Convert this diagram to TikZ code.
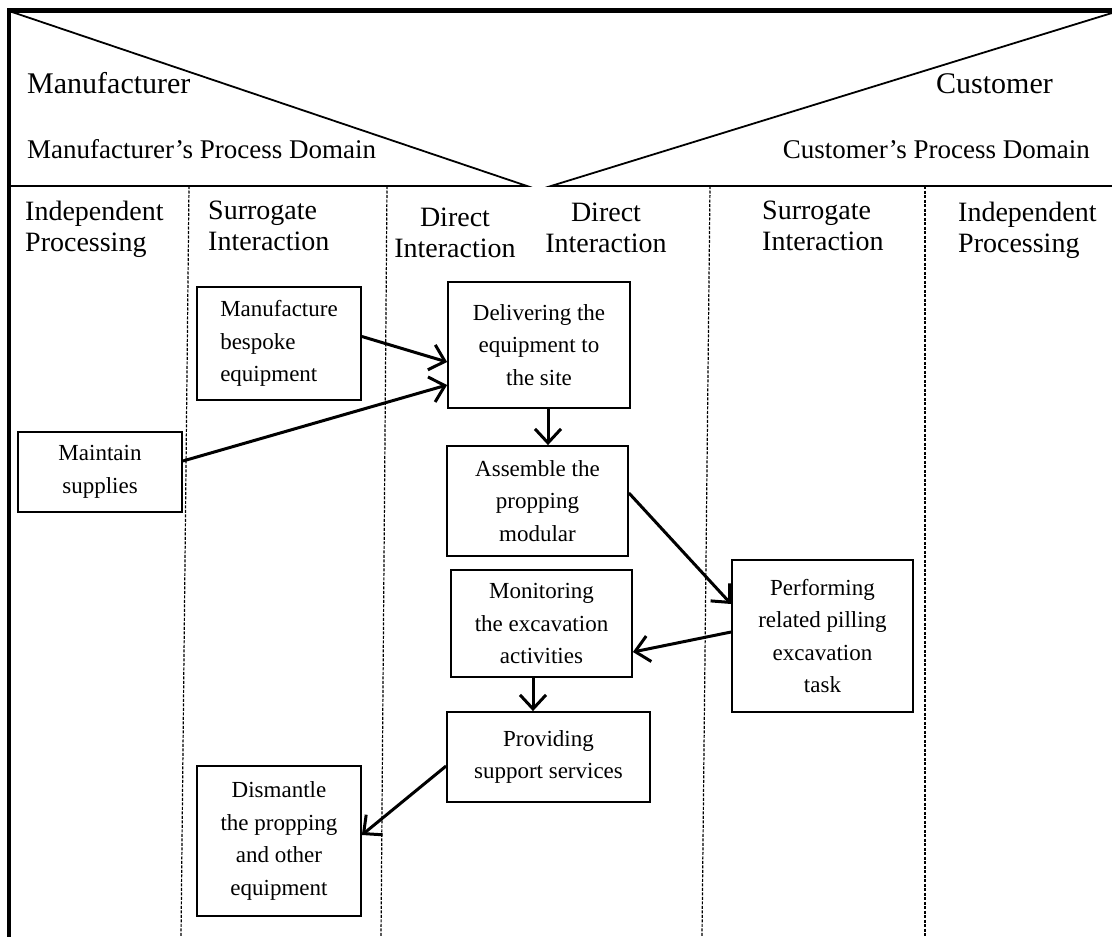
\documentclass[tikz,border=0pt]{standalone}
\usepackage{fontspec}
\setmainfont{Liberation Serif}
\usetikzlibrary{arrows.meta}
\newcommand\boxfont{\fontsize{23}{32.5}\selectfont}
\newcommand\headfont{\fontsize{28}{31}\selectfont}
\newcommand\titlefont{\fontsize{30}{34}\selectfont}
\newcommand\domfont{\fontsize{27}{30}\selectfont}
\tikzset{
  box/.style={draw, line width=1.8pt, inner sep=0pt, align=center, font=\boxfont},
  arr/.style={line width=3pt, -{Straight Barb[length=14pt,width=26pt]}},
  divider/.style={dash pattern=on 3pt off 1.5pt, line width=1.2pt},
  head/.style={inner sep=0pt, font=\headfont},
  thin/.style={line width=1.8pt},
}
\begin{document}
\begin{tikzpicture}[x=1pt,y=-1pt]
\useasboundingbox (0,0) rectangle (1112,937);
% frame
\draw[line width=4.5pt] (1112,10.5) -- (9,10.5) -- (9,937);
% triangles
\draw[thin] (12,12) -- (527,186) -- (9,186);
\draw[thin] (1112,13) -- (551,186) -- (1112,186);
% dividers
\draw[divider] (189,186) -- (181,937);
\draw[divider] (387,186) -- (381,937);
\draw[divider] (710,186) -- (702,937);
\draw[divider] (925,186) -- (925,937);
% titles
\node[inner sep=0pt, anchor=base west, font=\titlefont] (tman) at (27,93) {Manufacturer};
\node[inner sep=0pt, anchor=base west, font=\domfont] (tmand) at (27,158) {Manufacturer's Process Domain};
\node[inner sep=0pt, anchor=base east, font=\titlefont] (tcus) at (1053,93) {Customer};
\node[inner sep=0pt, anchor=base east, font=\domfont] (tcusd) at (1090,158) {Customer's Process Domain};
% column headers
\node[head, anchor=north west, align=left] (h1) at (25,201) {Independent\\Processing};
\node[head, anchor=north west, align=left] (h2) at (208,201) {Surrogate\\Interaction};
\node[head, anchor=north, align=center] (h3) at (455,208) {Direct\\Interaction};
\node[head, anchor=north, align=center] (h4) at (606,203) {Direct\\Interaction};
\node[head, anchor=north west, align=left] (h5) at (762,201) {Surrogate\\Interaction};
\node[head, anchor=north west, align=left] (h6) at (958,202) {Independent\\Processing};
% boxes
\node[box, minimum width=164pt, minimum height=113pt, align=left] (man) at (279,343.5) {Manufacture\\bespoke\\equipment};
\node[box, minimum width=164pt, minimum height=80pt] (maint) at (100,472) {Maintain\\supplies};
\node[box, minimum width=182pt, minimum height=126pt] (deliv) at (539,345) {Delivering the\\equipment to\\the site};
\node[box, minimum width=181pt, minimum height=110pt] (assem) at (537.5,501) {Assemble the\\propping\\modular};
\node[box, minimum width=181pt, minimum height=107pt] (monit) at (541.5,623.5) {Monitoring\\the excavation\\activities};
\node[box, minimum width=203pt, minimum height=90pt] (prov) at (548.5,757) {Providing\\support services};
\node[box, minimum width=164pt, minimum height=150pt] (dism) at (279,841) {Dismantle\\the propping\\and other\\equipment};
\node[box, minimum width=181pt, minimum height=152pt] (perf) at (822.5,636) {Performing\\related pilling\\excavation\\task};
% connectors
\draw[arr] ([yshift=7pt]man.east) -- ([yshift=-17pt]deliv.west);
\draw[arr] ([yshift=11pt]maint.east) -- ([yshift=-40pt]deliv.west);
\draw[arr] ([xshift=9pt]deliv.south) -- ([xshift=10.5pt]assem.north);
\draw[arr] ([yshift=8pt]assem.east) -- ([yshift=32pt]perf.west);
\draw[arr] ([yshift=4pt]perf.west) -- ([yshift=-28.5pt]monit.east);
\draw[arr] ([xshift=-8.5pt]monit.south) -- ([xshift=-15.5pt]prov.north);
\draw[arr] ([yshift=-9pt]prov.west) -- ([yshift=6pt]dism.east);
\end{tikzpicture}
\end{document}
